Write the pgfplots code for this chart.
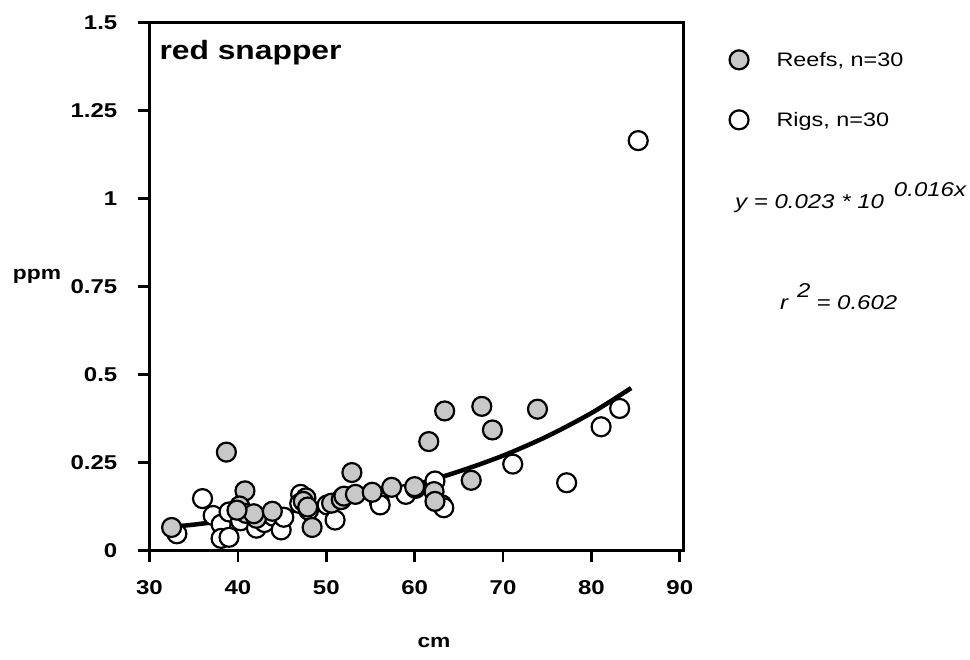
\documentclass[border=0pt]{standalone}
\usepackage{fontspec}
\setmainfont{Liberation Sans}
\usepackage{graphicx}
\usepackage{pgfplots}
\pgfplotsset{compat=1.18}
\newcommand{\hs}[1]{\scalebox{1.2}[1]{#1}}
\definecolor{reefgray}{RGB}{200,200,200}

\pgfplotstableread{
x y
32.5 0.066
38.7 0.280
40.8 0.170
40.2 0.127
40.9 0.106
42.1 0.092
41.8 0.105
43.9 0.112
39.9 0.115
47.7 0.150
47.4 0.140
47.9 0.124
48.4 0.066
52.9 0.222
50.6 0.135
51.7 0.145
52.0 0.155
53.3 0.160
55.2 0.166
57.4 0.180
60.1 0.177
61.6 0.310
62.2 0.168
62.3 0.140
63.4 0.397
66.4 0.200
67.6 0.410
68.8 0.343
73.9 0.402
60.0 0.182
}\reefs

\pgfplotstableread{
x y
33.1 0.048
36.0 0.148
37.2 0.100
38.1 0.075
38.1 0.035
39.0 0.038
39.0 0.110
40.3 0.085
42.1 0.064
43.0 0.080
44.0 0.098
44.9 0.059
45.2 0.095
47.1 0.160
47.0 0.134
48.0 0.115
50.1 0.130
51.0 0.087
51.8 0.150
56.0 0.140
56.1 0.130
59.0 0.160
62.3 0.198
63.1 0.130
63.3 0.122
71.1 0.246
77.2 0.193
81.1 0.352
83.2 0.404
85.3 1.165
}\rigs

\pgfplotstableread{
x y
32.5 0.068
35 0.074
40 0.090
45 0.108
50 0.129
55 0.156
60 0.187
65 0.225
70 0.270
75 0.325
80 0.391
84.5 0.462
}\fit

\begin{document}
\begin{tikzpicture}
\path[use as bounding box] (0pt,0pt) rectangle (970pt,660pt);
\begin{axis}[
  at={(149.5pt,109.3pt)}, anchor=south west,
  scale only axis, width=533.8pt, height=528pt,
  xmin=30, xmax=90.4, ymin=0, ymax=1.5,
  clip=false,
  separate axis lines,
  axis line style={line width=3pt, line cap=rect},
  xtick={30,40,50,60,70,80,90},
  xticklabels={\hs{30},\hs{40},\hs{50},\hs{60},\hs{70},\hs{80},\hs{90}},
  ytick={0,0.25,0.5,0.75,1,1.25,1.5},
  yticklabels={\hs{0},\hs{0.25},\hs{0.5},\hs{0.75},\hs{1},\hs{1.25},\hs{1.5}},
  tick align=outside, xtick pos=left, ytick pos=left,
  major tick length=11pt,
  major tick style={line width=2.6pt,black},
  tick label style={font=\fontsize{20}{20}\selectfont\bfseries},
  xticklabel style={inner sep=0pt, anchor=north, yshift=-19pt},
  yticklabel style={inner sep=0pt, anchor=east, xshift=-21pt},
  legend image code/.code={\draw[#1] plot coordinates {(0pt,0pt)};},
  legend style={at={(axis description cs:1.0863,0.948)}, anchor=north west,
    draw=none, fill=none, inner sep=0pt, row sep=41pt, column sep=28pt,
    font=\fontsize{19.5}{19.5}\selectfont, nodes={inner sep=0pt}},
  legend cell align=left,
  reverse legend,
]
\addplot[only marks, mark=*, mark size=9.5pt, line width=2.2pt, draw=black, fill=white]
  table[x=x,y=y]{\rigs};
\addlegendentry{\hs{Rigs, n=30}}
\addplot[only marks, mark=*, mark size=9.5pt, line width=2.2pt, draw=black, fill=reefgray]
  table[x=x,y=y]{\reefs};
\addlegendentry{\hs{Reefs, n=30}}
\addplot[forget plot, black, line width=4.5pt, smooth] table[x=x,y=y]{\fit};
\end{axis}
\node[anchor=base west, inner sep=0pt, font=\fontsize{26.5}{26.5}\selectfont\bfseries]
  at (159.3pt,600.7pt) {\hs{red snapper}};
\node[inner sep=0pt, font=\fontsize{19}{19}\selectfont\bfseries] at (37pt,384pt) {\hs{ppm}};
\node[inner sep=0pt, font=\fontsize{19}{19}\selectfont\bfseries] at (434pt,18pt) {\hs{cm}};
\node[anchor=base west, inner sep=0pt, font=\fontsize{20}{20}\selectfont\itshape]
  at (735pt,451pt) {\hs{y = 0.023 * 10}\hspace{10pt}\raisebox{12pt}{\hs{0.016x}}};
\node[anchor=base west, inner sep=0pt, font=\fontsize{20}{20}\selectfont\itshape]
  at (780pt,350pt) {\hs{r}\hspace{9pt}\raisebox{12pt}{\hs{2}}\hspace{6pt}\hs{= 0.602}};
\end{tikzpicture}
\end{document}
